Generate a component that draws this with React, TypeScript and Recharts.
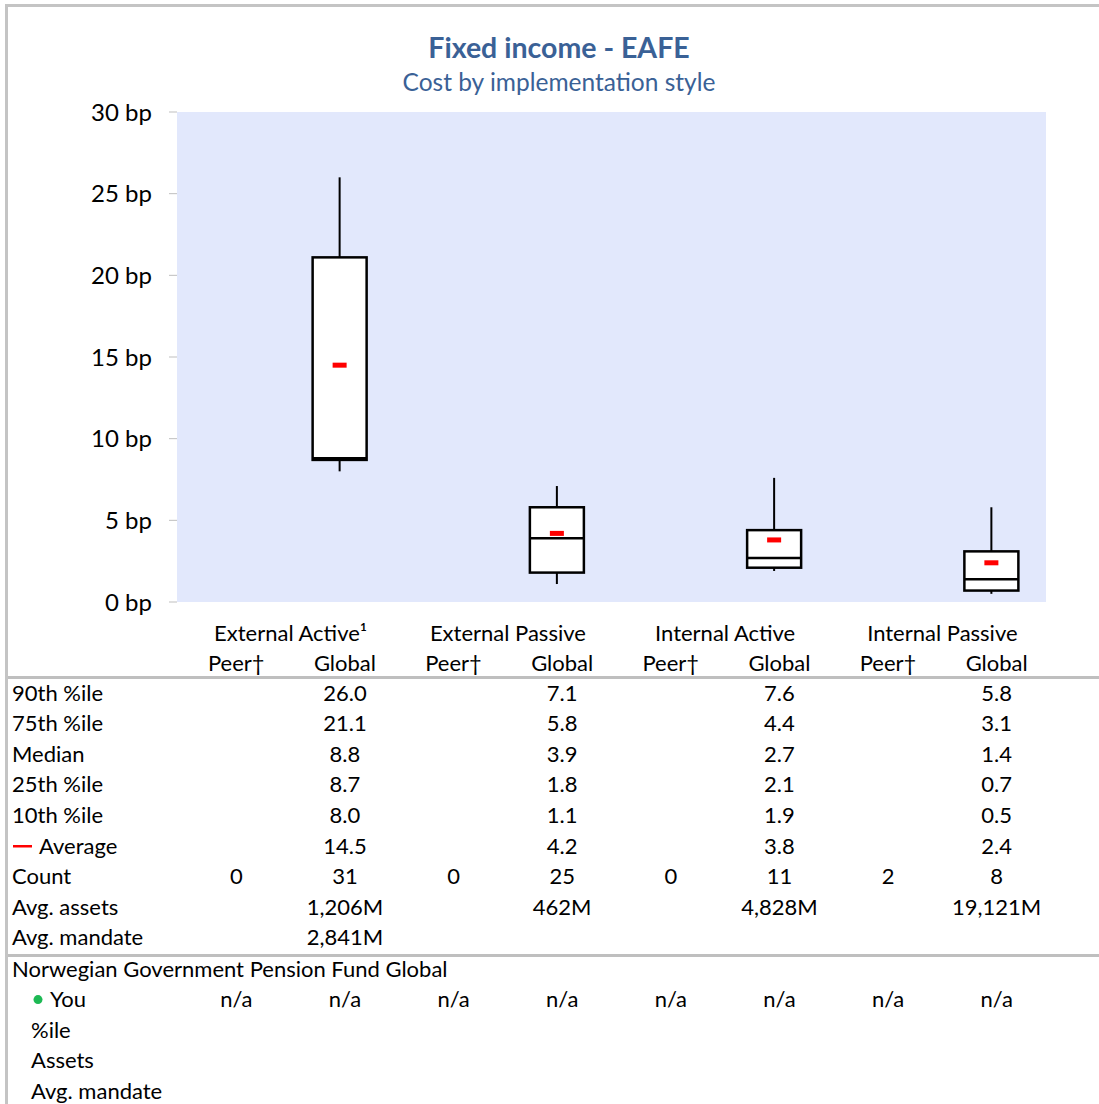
import React from 'react';
import { ComposedChart, Bar, XAxis, YAxis, CartesianGrid } from 'recharts';

// ============================================================================
// Data
// ============================================================================

const groups = ['External Active¹', 'External Passive', 'Internal Active', 'Internal Passive'];
const subCols = ['Peer†', 'Global'];

const p90 = [26.0, 7.1, 7.6, 5.8];
const p75 = [21.1, 5.8, 4.4, 3.1];
const median = [8.8, 3.9, 2.7, 1.4];
const p25 = [8.7, 1.8, 2.1, 0.7];
const p10 = [8.0, 1.1, 1.9, 0.5];
const average = [14.5, 4.2, 3.8, 2.4];
const peerCount = [0, 0, 0, 2];
const globalCount = [31, 25, 11, 8];
const avgAssets = [1206, 462, 4828, 19121];
const avgMandate: (number | null)[] = [2841, null, null, null];
const youValues = ['n/a', 'n/a', 'n/a', 'n/a', 'n/a', 'n/a', 'n/a', 'n/a'];

const yTicks = [0, 5, 10, 15, 20, 25, 30];

// ============================================================================
// Layout
// ============================================================================

const W = 1099;
const H = 1104;
const FONT = 'Lato, "Noto Sans", sans-serif';
const FS = 22;
const PLOT_LEFT = 177;
const PLOT_RIGHT = 1046;
const PLOT_TOP = 112;
const PLOT_BOTTOM = 602;
const CHART_H = 620;
const BAND = (PLOT_RIGHT - PLOT_LEFT) / 8;
const TITLE_BLUE = '#3a6196';
const GRID_GRAY = '#bfbfbf';

const colX = (i: number) => PLOT_LEFT + BAND * (i + 0.5) + 5;

// one row per category (peer + global for each group)
const chartData = groups.flatMap((g, gi) => [
  { cat: `${g}-peer`, range: null as number[] | null, gi },
  {
    cat: `${g}-global`,
    range: [p25[gi], p75[gi]],
    gi,
  },
]);

const fmt1 = (v: number) => v.toFixed(1);
const fmtM = (v: number) => `${v.toLocaleString('en-US')}M`;

const statRows: { label: string; cells: (string | null)[] }[] = [
  { label: '90th %ile', cells: groups.flatMap((_, i) => [null, fmt1(p90[i])]) },
  { label: '75th %ile', cells: groups.flatMap((_, i) => [null, fmt1(p75[i])]) },
  { label: 'Median', cells: groups.flatMap((_, i) => [null, fmt1(median[i])]) },
  { label: '25th %ile', cells: groups.flatMap((_, i) => [null, fmt1(p25[i])]) },
  { label: '10th %ile', cells: groups.flatMap((_, i) => [null, fmt1(p10[i])]) },
  { label: 'Average', cells: groups.flatMap((_, i) => [null, fmt1(average[i])]) },
  { label: 'Count', cells: groups.flatMap((_, i) => [String(peerCount[i]), String(globalCount[i])]) },
  { label: 'Avg. assets', cells: groups.flatMap((_, i) => [null, fmtM(avgAssets[i])]) },
  {
    label: 'Avg. mandate',
    cells: groups.flatMap((_, i) => [null, avgMandate[i] != null ? fmtM(avgMandate[i] as number) : null]),
  },
];

const youRows = ['%ile', 'Assets', 'Avg. mandate'];

// ============================================================================
// Box shape
// ============================================================================

const BoxShape = (props: any) => {
  const { x, y, width, height, payload } = props;
  if (!payload || !payload.range || !height) return <g />;
  const gi = payload.gi;
  const [lo, hi] = payload.range;
  const pxPerUnit = height / (hi - lo);
  const yOf = (v: number) => y + (hi - v) * pxPerUnit;
  const cx = x + width / 2;
  return (
    <g>
      <line x1={cx} x2={cx} y1={yOf(p90[gi])} y2={y} stroke="#000" strokeWidth={2} />
      <line x1={cx} x2={cx} y1={y + height} y2={yOf(p10[gi])} stroke="#000" strokeWidth={2} />
      <rect x={x} y={y} width={width} height={height} fill="#fff" stroke="#000" strokeWidth={2.5} />
      <line x1={x} x2={x + width} y1={yOf(median[gi])} y2={yOf(median[gi])} stroke="#000" strokeWidth={2.5} />
      <rect x={cx - 7} y={yOf(average[gi]) - 2.5} width={14} height={5} fill="#ff0000" />
    </g>
  );
};

// ============================================================================
// App
// ============================================================================

export default function App() {
  const rowY0 = 692;
  const rowStep = 30.6;
  const youY0 = 968;

  return (
    <div style={{ position: 'absolute', left: 0, top: 0, width: W, height: H, background: '#fff', fontFamily: FONT, overflow: 'hidden' }}>
      <div style={{ position: 'absolute', left: 0, top: 0 }}>
        <ComposedChart
          width={W}
          height={CHART_H}
          data={chartData}
          margin={{ top: PLOT_TOP, right: W - PLOT_RIGHT, bottom: CHART_H - PLOT_BOTTOM, left: 0 }}
          barCategoryGap={0}
        >
          <CartesianGrid horizontal={false} vertical={false} fill="#e2e8fc" />
          <XAxis dataKey="cat" hide />
          <YAxis
            width={PLOT_LEFT}
            domain={[0, 30]}
            ticks={yTicks}
            interval={0}
            axisLine={false}
            tickLine={{ stroke: GRID_GRAY }}
            tickSize={8}
            tickMargin={17}
            tickFormatter={(v) => `${v} bp`}
            tick={{ fill: '#000', fontSize: 24, fontFamily: FONT }}
          />
          <Bar dataKey="range" barSize={54} shape={<BoxShape />} isAnimationActive={false} />
        </ComposedChart>
      </div>

      <svg width={W} height={H} style={{ position: 'absolute', left: 0, top: 0, pointerEvents: 'none' }} fontFamily={FONT}>
        {/* frame */}
        <rect x={5} y={4} width={W} height={3} fill="#c4c4c4" />
        <rect x={5} y={4} width={3} height={H} fill="#c4c4c4" />

        {/* titles */}
        <text x={559} y={47} textAnchor="middle" dominantBaseline="central" fontSize={28.5} fontWeight={700} fill={TITLE_BLUE}>
          Fixed income - EAFE
        </text>
        <text x={559} y={81} textAnchor="middle" dominantBaseline="central" fontSize={24.5} fill={TITLE_BLUE}>
          Cost by implementation style
        </text>

        {/* column headers */}
        {groups.map((g, gi) => (
          <text key={g} x={(colX(gi * 2) + colX(gi * 2 + 1)) / 2} y={632} textAnchor="middle" dominantBaseline="central" fontSize={FS} fill="#000">
            {g}
          </text>
        ))}
        {groups.flatMap((g, gi) =>
          subCols.map((s, si) => (
            <text key={`${g}-${s}`} x={colX(gi * 2 + si)} y={662} textAnchor="middle" dominantBaseline="central" fontSize={FS} fill="#000">
              {s}
            </text>
          ))
        )}

        <rect x={8} y={676} width={W} height={3} fill={GRID_GRAY} />

        {/* stats rows */}
        {statRows.map((row, ri) => {
          const cy = rowY0 + ri * rowStep;
          const isAvg = row.label === 'Average';
          return (
            <g key={row.label}>
              {isAvg && <rect x={13} y={cy} width={19} height={2.5} fill="#ff0000" />}
              <text x={isAvg ? 39 : 12} y={cy} dominantBaseline="central" fontSize={FS} fill="#000">
                {row.label}
              </text>
              {row.cells.map((c, ci) =>
                c == null ? null : (
                  <text key={ci} x={colX(ci)} y={cy} textAnchor="middle" dominantBaseline="central" fontSize={FS} fill="#000">
                    {c}
                  </text>
                )
              )}
            </g>
          );
        })}

        <rect x={8} y={954} width={W} height={3} fill={GRID_GRAY} />

        {/* fund rows */}
        <text x={12} y={youY0} dominantBaseline="central" fontSize={FS} fill="#000">
          Norwegian Government Pension Fund Global
        </text>
        <circle cx={38} cy={youY0 + rowStep + 1} r={4.5} fill="#1db954" />
        <text x={50} y={youY0 + rowStep} dominantBaseline="central" fontSize={FS} fill="#000">
          You
        </text>
        {youValues.map((v, ci) => (
          <text key={ci} x={colX(ci)} y={youY0 + rowStep} textAnchor="middle" dominantBaseline="central" fontSize={FS} fill="#000">
            {v}
          </text>
        ))}
        {youRows.map((r, ri) => (
          <text key={r} x={31} y={youY0 + (ri + 2) * rowStep} dominantBaseline="central" fontSize={FS} fill="#000">
            {r}
          </text>
        ))}
      </svg>
    </div>
  );
}
